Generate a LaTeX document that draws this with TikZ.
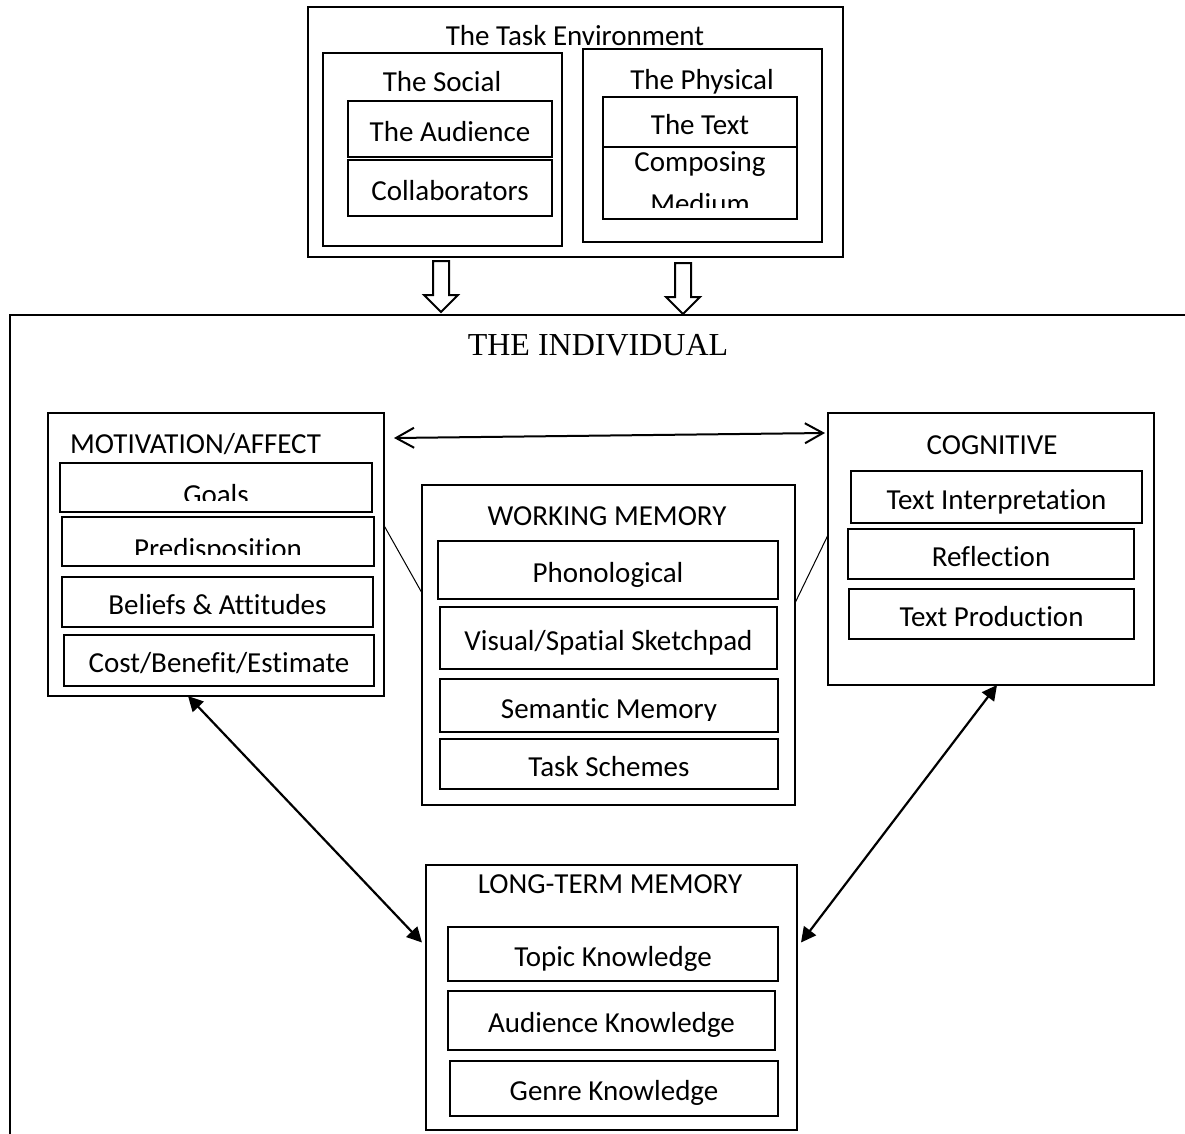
\documentclass[tikz,border=0pt]{standalone}
\usepackage{fontspec}
\setmainfont{Carlito}[Ligatures=NoCommon]
\newfontfamily\indivfont{Liberation Serif}
\usepackage{tikz}
\usetikzlibrary{arrows.meta, positioning, calc}
\newcommand{\boxfont}{\fontsize{29}{42}\selectfont}

\begin{document}
\begin{tikzpicture}[
  x=1pt, y=-1pt,
  frame/.style={draw, line width=2.5pt, inner sep=0pt, outer sep=0pt},
  cell/.style={draw, line width=2.5pt, inner sep=0pt, outer sep=0pt,
               font=\boxfont, text height=24pt, text depth=0pt},
  ttl/.style={inner sep=0pt, font=\boxfont, text height=19pt, text depth=0pt},
  lbl/.style={inner sep=0pt, font=\boxfont},
  both/.style={{Triangle[length=15pt,width=15pt]}-{Triangle[length=15pt,width=15pt]},
               line width=2.2pt},
  barb/.style={{Straight Barb[length=18pt,width=20pt]}-{Straight Barb[length=18pt,width=20pt]},
               line width=2pt},
  link/.style={line width=1pt},
  downarrow/.pic={\draw[line width=2pt] (-8,0) -- (8,0) -- (8,34) -- (17,34)
                   -- (0,51) -- (-17,34) -- (-8,34) -- cycle;}
]
\useasboundingbox (0,0) rectangle (1185,1133);

\node[frame, minimum width=535pt, minimum height=250pt] (taskenv) at (575.5,132) {};
\node[ttl] (taskttl) at (575,36) {The Task Environment};

\node[frame, minimum width=239pt, minimum height=193pt] (social) at (442.5,149.5) {};
\node[ttl] (socialttl) at (442,82) {The Social};
\node[cell, minimum width=204pt, minimum height=56pt] (audience) at (450,129) {The Audience};
\node[cell, minimum width=204pt, minimum height=56pt] (collab) at (450,188) {Collaborators};

\node[frame, minimum width=239pt, minimum height=193pt] (physical) at (702.5,145.5) {};
\node[ttl] (physttl) at (702,80) {The Physical};
\node[cell, minimum width=194pt, minimum height=50pt] (thetext) at (700,122) {The Text};
\node[cell, minimum width=194pt, minimum height=72pt] (composing) at (700,183) {};
\begin{scope}
  \clip (composing.north west) rectangle ([yshift=12pt]composing.south east);
  \node[lbl, align=center] at (composing.center) {Composing\\Medium};
\end{scope}

\pic at (441,261) {downarrow};
\pic at (683,263) {downarrow};

\node[frame, anchor=north west, minimum width=1200pt, minimum height=840pt] (indiv) at (10,315) {};
\node[inner sep=0pt, font=\indivfont\fontsize{32}{38}\selectfont] (indivttl) at (598,345) {THE INDIVIDUAL};

\node[frame, minimum width=336pt, minimum height=283pt] (motiv) at (216,554.5) {};
\node[ttl, anchor=west] (motivttl) at (70,444) {MOTIVATION/AFFECT};
\node[cell, minimum width=312pt, minimum height=49pt] (goals) at (216,487.5) {};
\begin{scope}
  \clip (goals.north west) rectangle ([yshift=12pt]goals.south east);
  \node[lbl, anchor=base] at ([yshift=-16.5pt]goals.center) {Goals};
\end{scope}
\node[cell, minimum width=312pt, minimum height=49pt] (predisp) at (218,541.5) {};
\begin{scope}
  \clip (predisp.north west) rectangle ([yshift=12pt]predisp.south east);
  \node[lbl, anchor=base] at ([yshift=-16.5pt]predisp.center) {Predisposition};
\end{scope}
\node[cell, minimum width=311pt, minimum height=50pt] (beliefs) at (217.5,602) {Beliefs \& Attitudes};
\node[cell, minimum width=310pt, minimum height=51pt] (cost) at (219,660.5) {Cost/Benefit/Estimate};

\node[frame, minimum width=326pt, minimum height=272pt] (cog) at (991,549) {};
\node[ttl] (cogttl) at (992,445) {COGNITIVE};
\node[cell, minimum width=291pt, minimum height=52pt] (textint) at (996.5,497) {Text Interpretation};
\node[cell, minimum width=286pt, minimum height=50pt] (reflect) at (991,554) {Reflection};
\node[cell, minimum width=285pt, minimum height=50pt] (textprod) at (991.5,614) {Text Production};

\node[frame, minimum width=373pt, minimum height=320pt] (wm) at (608.5,645) {};
\node[ttl] (wmttl) at (607,515.5) {WORKING MEMORY};
\node[cell, minimum width=340pt, minimum height=58pt] (phono) at (608,570) {Phonological};
\node[cell, minimum width=337pt, minimum height=62pt] (visual) at (608.5,638) {Visual/Spatial Sketchpad};
\node[cell, minimum width=338pt, minimum height=53pt] (semantic) at (609,705.5) {};
\begin{scope}
  \clip (semantic.north west) rectangle ([yshift=12pt]semantic.south east);
  \node[lbl, anchor=base] at ([yshift=-13pt]semantic.center) {Semantic Memory};
\end{scope}
\node[cell, minimum width=338pt, minimum height=50pt] (schemes) at (609,764) {Task Schemes};

\node[frame, minimum width=371pt, minimum height=265pt] (ltm) at (611.5,997.5) {};
\node[ttl] (ltmttl) at (610,884) {LONG-TERM MEMORY};
\node[cell, minimum width=330pt, minimum height=54pt] (topic) at (613,954) {Topic Knowledge};
\node[cell, minimum width=327pt, minimum height=59pt] (audk) at (611.5,1020.5) {Audience Knowledge};
\node[cell, minimum width=328pt, minimum height=55pt] (genre) at (614,1088.5) {Genre Knowledge};

\draw[barb] ([xshift=10pt,yshift=-25pt]motiv.north east) -- ([xshift=-3pt,yshift=-20pt]cog.north west);
\draw[both] ([xshift=-28pt]motiv.south) -- ([xshift=-4pt,yshift=55pt]ltm.west);
\draw[both] ([xshift=6pt]cog.south) -- ([xshift=4pt,yshift=55pt]ltm.east);
\draw[link] ([yshift=29pt]motiv.east) -- ([yshift=52pt]wm.west);
\draw[link] ([yshift=42pt]wm.east) -- ([yshift=14pt]cog.west);

\end{tikzpicture}
\end{document}
